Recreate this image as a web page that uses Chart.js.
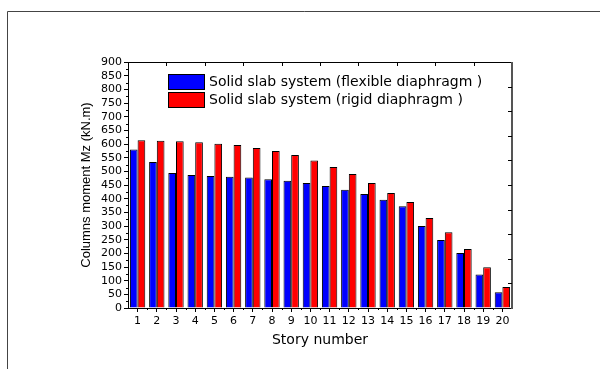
<!DOCTYPE html>
<html>
<head>
<meta charset="utf-8">
<script src="https://cdn.jsdelivr.net/npm/chart.js@4"></script>
<style>
  html, body { margin: 0; padding: 0; background: #fff; }
  canvas { display: block; }
</style>
</head>
<body>
<canvas id="c" width="600" height="369"></canvas>
<script>
// Story numbers along the x axis
const stories = ['1','2','3','4','5','6','7','8','9','10','11','12','13','14','15','16','17','18','19','20'];
// Column moment Mz (kN.m) per story
const flexibleMz = [580, 534, 494, 487, 483, 480, 477, 471, 466, 457, 446, 433, 417, 396, 372, 300, 249, 201, 123, 58];
const rigidMz    = [614, 612, 610, 606, 601, 596, 585, 574, 560, 540, 516, 490, 457, 421, 388, 329, 277, 216, 149, 77];
const seriesNames = ['Solid slab system (flexible diaphragm )', 'Solid slab system (rigid diaphragm )'];
const yMin = 0, yMax = 900, yStep = 50;

const WIDE = '"DejaVu Sans", Arial, sans-serif';
const ARIAL = 'Arial, "Liberation Sans", sans-serif';

// Outer frame, plot frame, minor ticks and the in-plot legend
const decor = {
  id: 'decor',
  beforeDraw(chart) {
    const ctx = chart.ctx;
    ctx.save();
    ctx.fillStyle = '#fff';
    ctx.fillRect(0, 0, chart.width, chart.height);
    ctx.strokeStyle = '#444';
    ctx.lineWidth = 1;
    ctx.beginPath();
    ctx.moveTo(7.5, chart.height + 5);
    ctx.lineTo(7.5, 11.5);
    ctx.lineTo(chart.width + 5, 11.5);
    ctx.stroke();
    ctx.restore();
  },
  afterDraw(chart) {
    const ctx = chart.ctx;
    const a = chart.chartArea;
    const y = chart.scales.y;
    ctx.save();
    ctx.lineWidth = 1;
    // top and right borders
    ctx.strokeStyle = '#000';
    ctx.beginPath();
    ctx.moveTo(a.left, a.top + 0.5);
    ctx.lineTo(a.right, a.top + 0.5);
    ctx.stroke();
    ctx.strokeStyle = '#555';
    ctx.lineWidth = 2;
    ctx.beginPath();
    ctx.moveTo(a.right, a.top);
    ctx.lineTo(a.right, a.bottom + 1);
    ctx.stroke();
    ctx.lineWidth = 1;
    ctx.strokeStyle = '#000';
    // minor y ticks (outward)
    ctx.beginPath();
    for (let v = yMin + yStep / 2; v < yMax; v += yStep) {
      const py = Math.round(y.getPixelForValue(v)) + 0.5;
      ctx.moveTo(a.left - 2, py);
      ctx.lineTo(a.left, py);
    }
    // minor x ticks at category boundaries
    const n = stories.length;
    const w = (a.right - a.left) / n;
    for (let i = 1; i < n; i++) {
      const px = Math.round(a.left + i * w) + 0.5;
      ctx.moveTo(px, a.bottom);
      ctx.lineTo(px, a.bottom + 2);
    }
    // top axis ticks (inward)
    for (let i = 2; i < n; i += 2) {
      const px = Math.round(a.left + i * w) + 0.5;
      ctx.moveTo(px, a.top);
      ctx.lineTo(px, a.top + 4);
    }
    // right axis ticks (inward)
    for (let k = 1; k < 10; k++) {
      const py = Math.round(a.top + k * (a.bottom - a.top) / 10) + 0.5;
      ctx.moveTo(a.right - 4, py);
      ctx.lineTo(a.right, py);
    }
    ctx.stroke();

    // legend
    const lx = a.left + 40, ly = a.top + 12, bw = 37, bh = 16;
    ctx.font = '14px ' + WIDE;
    ctx.textBaseline = 'middle';
    ctx.textAlign = 'left';
    chart.data.datasets.forEach((ds, i) => {
      const by = ly + i * (bh + 2);
      ctx.fillStyle = ds.backgroundColor;
      ctx.fillRect(lx, by, bw, bh);
      ctx.strokeStyle = '#000';
      ctx.strokeRect(lx + 0.5, by + 0.5, bw - 1, bh - 1);
      ctx.fillStyle = '#000';
      ctx.fillText(ds.label, lx + bw + 4, by + bh / 2 + 0.5);
    });
    ctx.restore();
  }
};

new Chart(document.getElementById('c'), {
  type: 'bar',
  data: {
    labels: stories,
    datasets: [
      { label: seriesNames[0], data: flexibleMz, backgroundColor: '#0000FF', borderColor: '#000', borderWidth: 1 },
      { label: seriesNames[1], data: rigidMz, backgroundColor: '#FF0000', borderColor: '#000', borderWidth: 1 }
    ]
  },
  options: {
    responsive: false,
    devicePixelRatio: 1,
    animation: false,
    events: [],
    layout: { padding: { left: 0, top: 62, right: 88, bottom: 0 } },
    datasets: { bar: { categoryPercentage: 0.8, barPercentage: 1.0, borderSkipped: 'start' } },
    plugins: { legend: { display: false }, tooltip: { enabled: false } },
    scales: {
      x: {
        offset: true,
        grid: { offset: false, drawOnChartArea: false, tickLength: 4, color: '#000' },
        border: { display: true, color: '#000', width: 1 },
        ticks: { color: '#000', font: { family: WIDE, size: 11 }, padding: 3, maxRotation: 0, autoSkip: false },
        title: { display: true, text: 'Story number', color: '#000', font: { family: WIDE, size: 14 }, padding: { top: 0, bottom: 20 } },
        afterFit(s) { s.height = 61; }
      },
      y: {
        min: yMin, max: yMax,
        grid: { drawOnChartArea: false, tickLength: 4, color: '#000' },
        border: { display: true, color: '#000', width: 1 },
        ticks: { stepSize: yStep, autoSkip: false, color: '#000', font: { family: WIDE, size: 11 }, padding: 2 },
        title: { display: true, text: 'Columns moment Mz (kN.m)', color: '#000', font: { family: ARIAL, size: 13 }, padding: { top: 79, bottom: 0 } },
        afterFit(s) { s.width = 128; }
      }
    }
  },
  plugins: [decor]
});
</script>
</body>
</html>
